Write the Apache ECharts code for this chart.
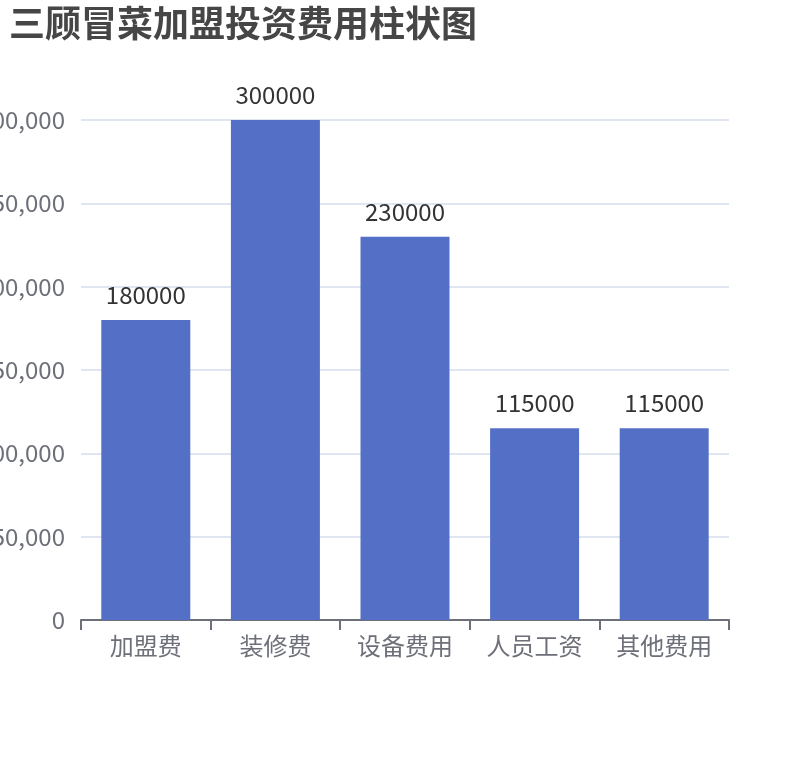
<!DOCTYPE html>
<html><head><meta charset="utf-8">
<script src="https://cdn.jsdelivr.net/npm/echarts@6/dist/echarts.min.js"></script>
<style>html,body{margin:0;padding:0;background:#fff}#c{width:810px;height:760px}</style>
</head><body><div id="c"></div>
<script>
const categories = ['加盟费', '装修费', '设备费用', '人员工资', '其他费用'];
const values = [180000, 300000, 230000, 115000, 115000];
const chart = echarts.init(document.getElementById('c'));
const FONT = '"Noto Sans CJK SC", "Noto Sans", sans-serif';
chart.setOption({
  animation: false,
  textStyle: { fontFamily: FONT },
  title: {
    text: '三顾冒菜加盟投资费用柱状图',
    left: 4, top: 0,
    textStyle: { fontSize: 36, fontWeight: 'bold', color: '#464646', fontFamily: FONT }
  },
  grid: { left: 81, right: 81, top: 120, bottom: 140, containLabel: false, outerBoundsMode: 'none' },
  xAxis: {
    type: 'category',
    data: categories,
    axisLabel: { fontSize: 24, color: '#6E7079', margin: 14, interval: 0, fontFamily: FONT },
    axisLine: { show: true, lineStyle: { color: '#6E7079', width: 2 } },
    axisTick: { show: true, length: 10, interval: 0, alignWithLabel: false, lineStyle: { color: '#6E7079', width: 2 } }
  },
  yAxis: {
    type: 'value',
    min: 0, max: 300000, interval: 50000,
    axisLabel: { fontSize: 24, color: '#6E7079', margin: 16, fontFamily: FONT,
      formatter: v => v.toLocaleString('en-US') },
    splitLine: { lineStyle: { color: '#E0E6F1', width: 2 } }
  },
  series: [{
    type: 'bar',
    data: values,
    barWidth: 89,
    itemStyle: { color: '#5470c6' },
    label: { show: true, position: 'top', fontSize: 24, color: '#333', distance: 13, fontFamily: FONT }
  }]
});
</script></body></html>
